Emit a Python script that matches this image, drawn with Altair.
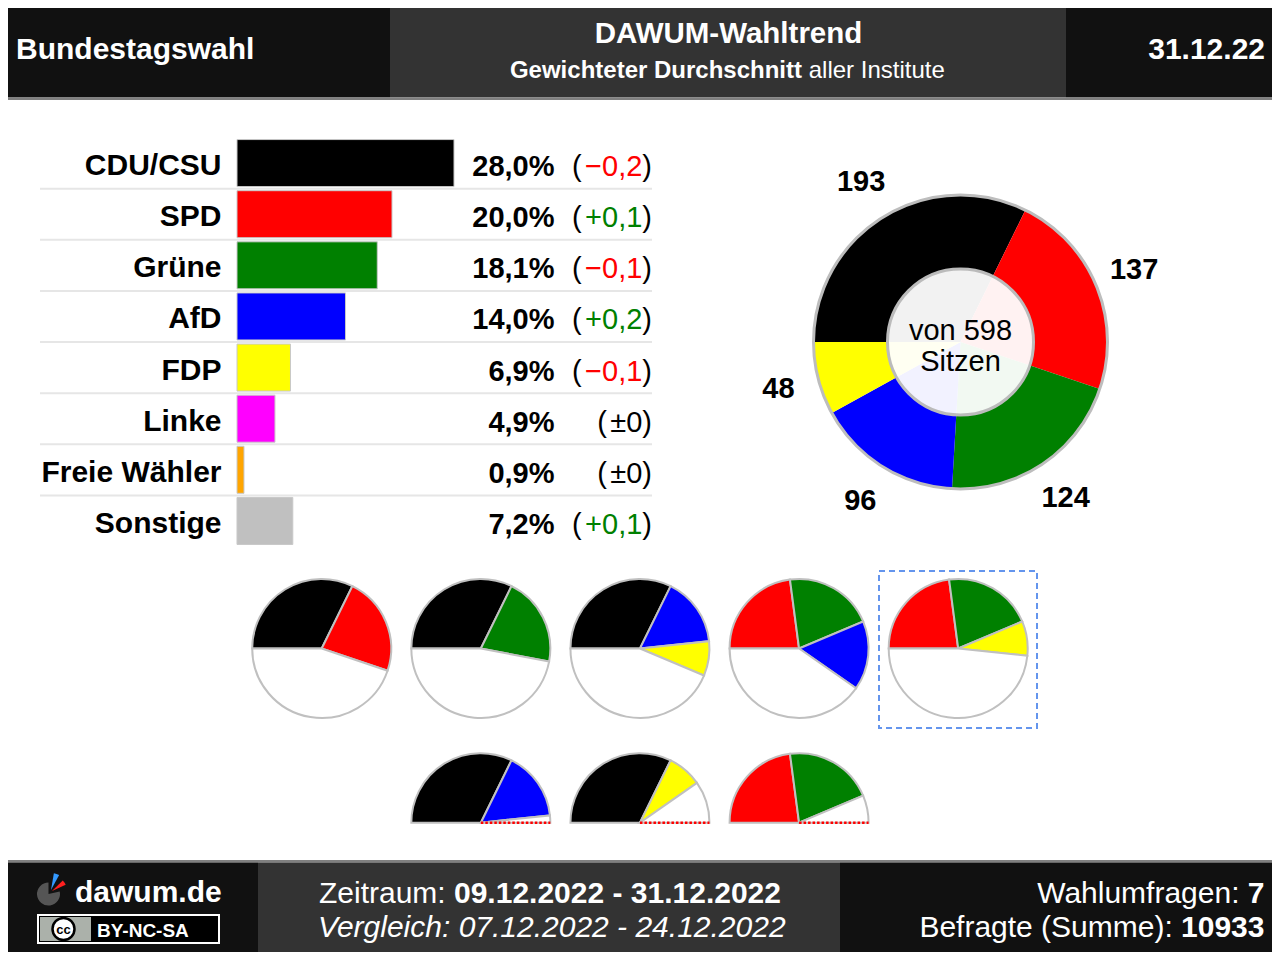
import math
import altair as alt
import pandas as pd

FONT = "Liberation Sans"

# ---------------- data ----------------
parties = ["CDU/CSU", "SPD", "Grüne", "AfD", "FDP", "Linke", "Freie Wähler", "Sonstige"]
party_colors = ["#000000", "#ff0000", "#008000", "#0000ff", "#ffff00", "#ff00ff", "#ffa500", "#c0c0c0"]
percent = [28.0, 20.0, 18.1, 14.0, 6.9, 4.9, 0.9, 7.2]
change = [-0.2, 0.1, -0.1, 0.2, -0.1, 0.0, 0.0, 0.1]

seat_parties = ["CDU/CSU", "SPD", "Grüne", "AfD", "FDP"]
seats = [193, 137, 124, 96, 48]
total_seats = 598

coalitions = [
    ["CDU/CSU", "SPD"],
    ["CDU/CSU", "Grüne"],
    ["CDU/CSU", "AfD", "FDP"],
    ["SPD", "Grüne", "AfD"],
    ["SPD", "Grüne", "FDP"],
    ["CDU/CSU", "AfD"],
    ["CDU/CSU", "FDP"],
    ["SPD", "Grüne"],
]
coalition_row = [0, 0, 0, 0, 0, 1, 1, 1]
coalition_slot = [0, 1, 2, 3, 4, 1, 2, 3]

header_left = "Bundestagswahl"
header_title = "DAWUM-Wahltrend"
header_sub_bold = "Gewichteter Durchschnitt"
header_sub_normal = "aller Institute"
header_date = "31.12.22"
period_label = "Zeitraum:"
period = "09.12.2022 - 31.12.2022"
compare_text = "Vergleich: 07.12.2022 - 24.12.2022"
polls_label = "Wahlumfragen:"
polls = "7"
resp_label = "Befragte (Summe):"
respondents = "10933"
seats_text_1 = "von 598"
seats_text_2 = "Sitzen"

# ---------------- helpers ----------------
OX, OY = 8, 8


def X(v):
    return v - OX


def Y(v):
    return v - OY


one = pd.DataFrame({"k": [0]})


def rect(x0, y0, x1, y1, **kw):
    return alt.Chart(one).mark_rect(**kw).encode(
        x=alt.value(X(x0)), x2=alt.value(X(x1)),
        y=alt.value(max(Y(y0), 0)), y2=alt.value(Y(y1)))


def text(s, x, y, size=29, weight="normal", align="left", color="black",
         style="normal", baseline="alphabetic"):
    return alt.Chart(one).mark_text(
        text=s, font=FONT, fontSize=size, fontWeight=weight, fontStyle=style,
        align=align, baseline=baseline, color=color,
    ).encode(x=alt.value(X(x)), y=alt.value(Y(y)))


def circle(cx, cy, r, t0=0.0, t1=2 * math.pi, **kw):
    return alt.Chart(one).mark_arc(outerRadius=r, theta=t0, theta2=t1, **kw).encode(
        x=alt.value(X(cx)), y=alt.value(Y(cy)))


WIDTHS = {"−": 584, "+": 584, "±": 549, ",": 278, "(": 333, ")": 333}


def text_width(s, size):
    return sum(WIDTHS.get(c, 556) for c in s) * size / 1000.0


def fmt(v):
    return f"{v:.1f}".replace(".", ",")


layers = []

# ---------------- header ----------------
layers += [
    rect(0, 0, 390, 97.5, color="#111111"),
    rect(390, 0, 1066, 97.5, color="#333333"),
    rect(1066, 0, 1280, 97.5, color="#111111"),
    rect(0, 97.5, 1280, 100, color="#808080"),
    text(header_left, 16, 59, size=30, weight="bold", color="white"),
    text(header_title, 728.5, 42.5, size=29.5, weight="bold", color="white", align="center"),
    text(header_sub_bold, 802, 78, size=24, weight="bold", color="white", align="right"),
    text(header_sub_normal, 808.7, 78, size=24, color="white"),
    text(header_date, 1265, 59, size=30, weight="bold", color="white", align="right"),
]

# ---------------- bar table ----------------
bar_df = pd.DataFrame({"party": parties, "pct": percent, "change": change})
bar_df["pct_label"] = [fmt(v) + "%" for v in percent]
bar_df["chg_label"] = ["±0" if c == 0 else ("−" if c < 0 else "+") + fmt(abs(c)) for c in change]
bar_df["chg_sign"] = ["zero" if c == 0 else ("neg" if c < 0 else "pos") for c in change]
CHG = 29
close_x = X(652)
inner_x = close_x - text_width(")", CHG)
bar_df["open_x"] = [inner_x - text_width(s, CHG) - 3.5 for s in bar_df["chg_label"]]

step_pad = 4.125 / 51.125
bar_rows = alt.Scale(type="band", domain=parties, range=[Y(137.5), Y(546.5)],
                     paddingInner=step_pad, paddingOuter=step_pad / 2)
plain_rows = alt.Scale(type="band", domain=parties, range=[Y(137.5), Y(546.5)],
                       paddingInner=0, paddingOuter=0)

color_party = alt.Color("party:N", scale=alt.Scale(domain=parties, range=party_colors), legend=None)

rules = alt.Chart(bar_df.iloc[:7]).mark_rule(color="#e6e6e6", strokeWidth=2).encode(
    y=alt.Y("party:N", scale=plain_rows, axis=None, bandPosition=1),
    x=alt.value(X(40)), x2=alt.value(X(652)))

bars = alt.Chart(bar_df).mark_bar(stroke="#c8c8c8", strokeWidth=1).encode(
    x=alt.X("pct:Q", scale=alt.Scale(domain=[0, 28], range=[X(237), X(454)], nice=False), axis=None),
    y=alt.Y("party:N", scale=bar_rows, axis=None),
    color=color_party)

labels = alt.Chart(bar_df).mark_text(
    font=FONT, fontSize=30, fontWeight="bold", align="right", baseline="alphabetic", dy=12, color="black"
).encode(y=alt.Y("party:N", scale=plain_rows, axis=None, bandPosition=0.5),
         x=alt.value(X(221.5)), text="party:N")

values = alt.Chart(bar_df).mark_text(
    font=FONT, fontSize=29, fontWeight="bold", align="right", baseline="alphabetic", dy=13, color="black"
).encode(y=alt.Y("party:N", scale=plain_rows, axis=None, bandPosition=0.5),
         x=alt.value(X(554.5)), text="pct_label:N")

chg_inner = alt.Chart(bar_df).mark_text(
    font=FONT, fontSize=CHG, align="right", baseline="alphabetic", dy=13
).encode(y=alt.Y("party:N", scale=plain_rows, axis=None, bandPosition=0.5),
         x=alt.value(inner_x), text="chg_label:N",
         color=alt.Color("chg_sign:N", scale=alt.Scale(domain=["neg", "pos", "zero"],
                                                       range=["#ff0000", "#008000", "#000000"]), legend=None))

chg_close = alt.Chart(bar_df).mark_text(
    font=FONT, fontSize=CHG, align="right", baseline="alphabetic", dy=13, text=")", color="black"
).encode(y=alt.Y("party:N", scale=plain_rows, axis=None, bandPosition=0.5), x=alt.value(close_x))

chg_open = alt.Chart(bar_df).mark_text(
    font=FONT, fontSize=CHG, align="right", baseline="alphabetic", dy=13, text="(", color="black"
).encode(y=alt.Y("party:N", scale=plain_rows, axis=None, bandPosition=0.5),
         x=alt.X("open_x:Q", scale=None, axis=None))

layers += [rules, bars, labels, values, chg_inner, chg_close, chg_open]

# ---------------- seat donut ----------------
seat_df = pd.DataFrame({"party": seat_parties, "seats": seats})
seat_df["end"] = seat_df["seats"].cumsum()
seat_df["start"] = seat_df["end"] - seat_df["seats"]
seat_df["mid"] = (seat_df["start"] + seat_df["end"]) / 2

angle_scale = alt.Scale(domain=[0, total_seats], range=[1.5 * math.pi, 3.5 * math.pi], nice=False, zero=False)
DCX, DCY = 960.5, 342

donut = alt.Chart(seat_df).mark_arc(outerRadius=147).encode(
    theta=alt.Theta("start:Q", scale=angle_scale), theta2="end:Q",
    color=color_party, x=alt.value(X(DCX)), y=alt.value(Y(DCY)))

donut_labels = alt.Chart(seat_df).mark_text(
    radius=188, font=FONT, fontSize=29, fontWeight="bold", baseline="middle", align="center", color="black"
).encode(theta=alt.Theta("mid:Q", scale=angle_scale), text="seats:Q",
         x=alt.value(X(DCX)), y=alt.value(Y(DCY)))

layers += [
    donut,
    circle(DCX, DCY, 147, fillOpacity=0, stroke="#bdbdbd", strokeWidth=3),
    circle(DCX, DCY, 73, color="#ffffff", fillOpacity=0.95, stroke="#bbbbbb", strokeWidth=3),
    donut_labels,
    text(seats_text_1, DCX, 340, size=29, align="center"),
    text(seats_text_2, DCX, 371, size=29, align="center"),
]

# ---------------- coalition pies ----------------
rows = []
for i, members in enumerate(coalitions):
    cum = 0
    for p in members:
        s = seats[seat_parties.index(p)]
        rows.append(dict(coal=i, slot=coalition_slot[i], row=coalition_row[i], party=p, start=cum, end=cum + s))
        cum += s
    limit = total_seats if coalition_row[i] == 0 else total_seats / 2
    rows.append(dict(coal=i, slot=coalition_slot[i], row=coalition_row[i], party="rest", start=cum, end=limit))
coal_df = pd.DataFrame(rows)

slot_scale = alt.Scale(domain=[0, 4], range=[X(321.7), X(958.2)], nice=False, zero=False)
prow_scale = alt.Scale(domain=[0, 1], range=[Y(648.5), Y(822.7)], nice=False, zero=False)

pies = alt.Chart(coal_df).mark_arc(outerRadius=69.5, stroke="#c0c0c0", strokeWidth=2).encode(
    x=alt.X("slot:Q", scale=slot_scale, axis=None),
    y=alt.Y("row:Q", scale=prow_scale, axis=None),
    theta=alt.Theta("start:Q", scale=angle_scale), theta2="end:Q",
    color=alt.Color("party:N", scale=alt.Scale(domain=parties + ["rest"], range=party_colors + ["#ffffff"]),
                    legend=None))

half_df = pd.DataFrame({"slot": [coalition_slot[i] for i in range(len(coalitions)) if coalition_row[i] == 1],
                        "row": [1 for i in range(len(coalitions)) if coalition_row[i] == 1]})
majority = alt.Chart(half_df).mark_rule(color="#ff0000", strokeWidth=2.5, strokeDash=[2.5, 2], x2Offset=69.5).encode(
    x=alt.X("slot:Q", scale=slot_scale, axis=None), x2="slot:Q",
    y=alt.Y("row:Q", scale=prow_scale, axis=None))

layers += [
    pies,
    majority,
    rect(879, 571, 1037, 728, fillOpacity=0, stroke="#6495ed", strokeWidth=2, strokeDash=[6, 4]),
]

# ---------------- footer ----------------
layers += [
    rect(0, 860, 1280, 862.5, color="#808080"),
    rect(0, 862.5, 258, 960, color="#111111"),
    rect(258, 862.5, 840, 960, color="#333333"),
    rect(840, 862.5, 1280, 960, color="#111111"),
    # logo
    circle(48.5, 894, 11.5, 1.35, 2 * math.pi, color="#555555"),
    circle(51, 890, 17, 0.17, 0.5, color="#3399ff"),
    circle(52, 891, 15, 0.8, 1.15, color="#ff2020"),
    text("dawum.de", 75, 902, size=30, weight="bold", color="white"),
    rect(38, 915, 219, 943, color="#000000", stroke="#ffffff", strokeWidth=2),
    rect(40, 917, 91, 941, color="#abb1aa"),
    circle(63.5, 929, 11, color="#ffffff", stroke="#000000", strokeWidth=2.5),
    text("cc", 63.5, 934, size=13, weight="bold", align="center"),
    text("BY-NC-SA", 97, 937, size=19, weight="bold", color="white"),
    # center
    text(period_label, 445.7, 903, size=30, color="white", align="right"),
    text(period, 454, 903, size=30, weight="bold", color="white"),
    text(compare_text, 318, 937, size=30, color="white", style="italic"),
    # right
    text(polls, 1264.5, 903, size=30, weight="bold", color="white", align="right"),
    text(polls_label, 1239.5, 903, size=30, color="white", align="right"),
    text(respondents, 1264.5, 937, size=30, weight="bold", color="white", align="right"),
    text(resp_label, 1172.8, 937, size=30, color="white", align="right"),
]

chart = alt.layer(*layers).resolve_scale(
    x="independent", y="independent", theta="independent", color="independent"
).properties(
    width=1264, height=944, padding=0,
    autosize=alt.AutoSizeParams(type="none"), background="white",
).configure_view(strokeWidth=0)

chart.save("out.html", embed_options={"renderer": "svg", "actions": False})
